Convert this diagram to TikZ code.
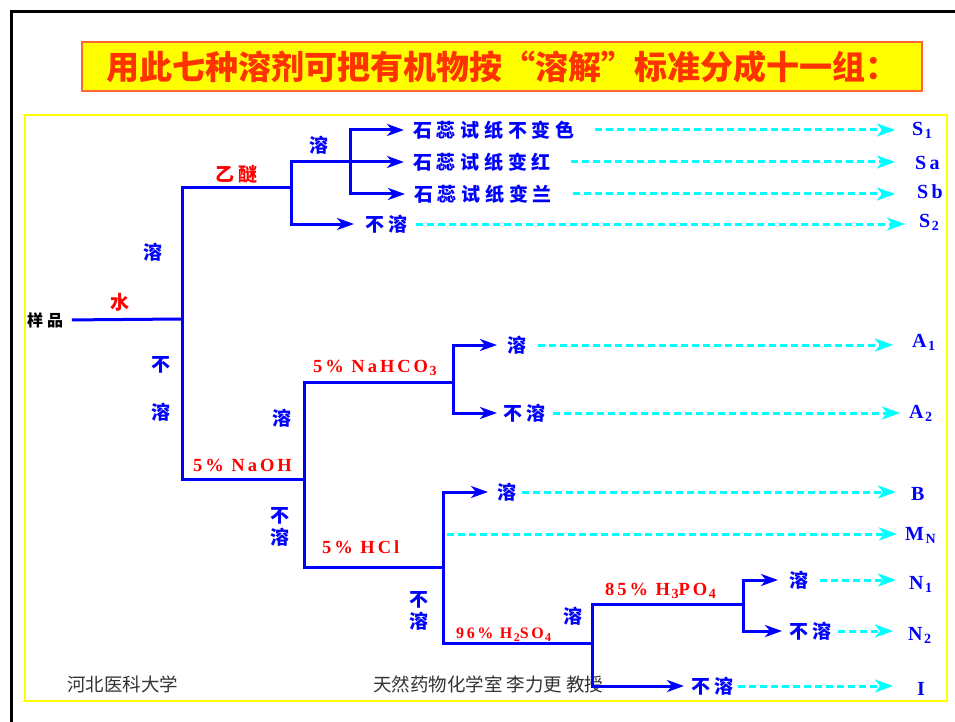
\documentclass[tikz,border=0pt]{standalone}
\usepackage{fontspec}
\setmainfont{Liberation Serif}
\newfontfamily\cjk{Noto Sans CJK SC}
\newfontfamily\cjksp{Noto Sans CJK SC}[LetterSpace=25]
\newfontfamily\latsp{Liberation Serif}[LetterSpace=16]
\usetikzlibrary{arrows.meta}
\definecolor{tblue}{RGB}{0,0,255}
\definecolor{tred}{RGB}{255,0,0}
\definecolor{tcyan}{RGB}{0,255,255}
\definecolor{ttitle}{RGB}{255,51,0}
\definecolor{tborder}{RGB}{255,102,51}
\definecolor{tgray}{RGB}{51,51,51}
\definecolor{tyellow}{RGB}{255,255,0}
\newcommand\lowsub[2]{\hspace{1.5pt}\raisebox{-3pt}{\fontsize{#1}{#1}\selectfont #2}}
\tikzset{
  tree/.style={draw=tblue, line width=3pt, line cap=rect, line join=miter},
  barrow/.style={draw=tblue, line width=3pt, shorten >=9pt, -{Stealth[length=17pt,width=12pt,inset=5pt]}},
  carrow/.style={draw=tcyan, line width=3pt, dash pattern=on 7pt off 4pt, -{Stealth[length=18pt,width=13pt,inset=5pt]}},
  cjklab/.style={font=\cjksp\bfseries\fontsize{19}{22}\selectfont, text=tblue, inner sep=0pt},
  cjkred/.style={font=\cjksp\bfseries\fontsize{19}{22}\selectfont, text=tred, inner sep=0pt},
  redlab/.style={font=\latsp\bfseries\fontsize{18.5}{20}\selectfont, text=tred, inner sep=0pt},
  rlab/.style={font=\latsp\bfseries\fontsize{20}{22}\selectfont, text=tblue, inner sep=0pt, anchor=base west},
  foot/.style={font=\cjk\fontsize{18.5}{20}\selectfont, text=tgray, inner sep=0pt, anchor=west},
}
\begin{document}
\begin{tikzpicture}[x=1pt,y=-1pt]
\useasboundingbox (0,0) rectangle (955,722);
% frames
\draw[line width=3pt] (11,730) -- (11,12) -- (960,12);
\draw[tyellow, line width=1.2pt] (25,115) rectangle (947,701);
% title
\node[draw=tborder, line width=1.5pt, fill=tyellow, minimum width=840pt, minimum height=49pt,
      inner sep=0pt, text=ttitle, font=\cjk\bfseries\fontsize{33}{35}\selectfont] (title) at (502,66.5)
      {用此七种溶剂可把有机物按“溶解”标准分成十一组：};

% text nodes
\node[cjklab, text=black, font=\cjksp\bfseries\fontsize{16}{18}\selectfont, anchor=west] (sample) at (27,320) {样品};
\node[cjkred] (water) at (120,302) {水};
\node[cjklab] (r1) at (153,252) {溶};
\node[cjklab] (b1) at (161,365) {不};
\node[cjklab] (r2) at (161,412) {溶};
\node[cjkred, anchor=west] (ether) at (215,174) {乙醚};
\node[cjklab] (r3) at (319,145) {溶};
\node[cjklab, anchor=west] (t1) at (413,130) {石蕊试纸不变色};
\node[cjklab, anchor=west] (t2) at (413,162) {石蕊试纸变红};
\node[cjklab, anchor=west] (t3) at (414,194) {石蕊试纸变兰};
\node[cjklab, anchor=west] (bs1) at (365,224) {不溶};
\node[rlab] (S1) at (912,136) {S\lowsub{14}{1}};
\node[rlab] (Sa) at (915,170) {Sa};
\node[rlab] (Sb) at (917,198) {Sb};
\node[rlab] (S2) at (919,227) {S\lowsub{14}{2}};

\node[redlab, anchor=base west] (naoh) at (193,471) {5\% NaOH};
\node[cjklab] (r4) at (282,418) {溶};
\node[cjklab, align=center] (bs2) at (280,527) {不\\溶};
\node[redlab, anchor=base west] (nahco3) at (313,372) {5\% NaHCO\lowsub{14}{3}};
\node[cjklab, anchor=west] (a1t) at (507,345) {溶};
\node[cjklab, anchor=west] (a2t) at (503,413) {不溶};
\node[rlab] (A1) at (912,347) {A\lowsub{14}{1}};
\node[rlab] (A2) at (909,418) {A\lowsub{14}{2}};

\node[redlab, anchor=base west] (hcl) at (322,553) {5\% HCl};
\node[cjklab, anchor=west] (bt) at (497,492) {溶};
\node[rlab] (B) at (911,500) {B};
\node[rlab] (MN) at (905,540) {M\lowsub{14}{N}};
\node[cjklab, align=center] (bs3) at (419,611) {不\\溶};
\node[redlab, font=\latsp\bfseries\fontsize{16}{18}\selectfont, anchor=base west] (h2so4) at (456,638) {96\% H\lowsub{12}{2}SO\lowsub{12}{4}};
\node[cjklab] (r5) at (573,616) {溶};
\node[redlab, anchor=base west] (h3po4) at (605,595) {85\% H\lowsub{14}{3}PO\lowsub{14}{4}};
\node[cjklab, anchor=west] (n1t) at (789,580) {溶};
\node[cjklab, anchor=west] (n2t) at (789,631) {不溶};
\node[cjklab, anchor=west] (it) at (691,686) {不溶};
\node[rlab] (N1) at (909,589) {N\lowsub{14}{1}};
\node[rlab] (N2) at (908,640) {N\lowsub{14}{2}};
\node[rlab] (I) at (917,695) {I};

\node[foot] (f1) at (67,684) {河北医科大学};
\node[foot] (f2) at (373,684) {天然药物化学室 李力更 教授};

% junction coordinates
\coordinate (J0) at (182,319);
\coordinate (J0t) at (182,188);
\coordinate (J0b) at (182,479);
\coordinate (J1) at (291,188);
\coordinate (J1t) at (291,162);
\coordinate (J2) at (350,162);
\coordinate (J3) at (304,479);
\coordinate (J3t) at (304,382);
\coordinate (J3b) at (304,567);
\coordinate (J4) at (453,382);
\coordinate (J5) at (443,567);
\coordinate (J5b) at (443,643);
\coordinate (J6) at (592,643);
\coordinate (J6t) at (592,604);
\coordinate (J7) at (743,604);
\coordinate (mnstart) at (447,534);

% tree lines
\draw[tree, shorten <=10pt] (sample.east) -- (J0);
\draw[tree] (J0t) -- (J0b);
\draw[tree] (J0t) -- (J1);
\draw[tree] (J1t) -- (J1t |- bs1.west);
\draw[tree] (J1t) -- (J2);
\draw[tree] (J2 |- t1.west) -- (J2 |- t3.west);
\draw[barrow] (J2 |- t1.west) -- (t1.west);
\draw[barrow] (J2) -- (t2.west);
\draw[barrow] (J2 |- t3.west) -- (t3.west);
\draw[barrow, shorten >=11pt] (J1t |- bs1.west) -- (bs1.west);

\draw[tree] (J0b) -- (J3);
\draw[tree] (J3t) -- (J3b);
\draw[tree] (J3t) -- (J4);
\draw[tree] (J4 |- a1t.west) -- (J4 |- a2t.west);
\draw[barrow, shorten >=10pt] (J4 |- a1t.west) -- (a1t.west);
\draw[barrow, shorten >=6pt] (J4 |- a2t.west) -- (a2t.west);

\draw[tree] (J3b) -- (J5);
\draw[tree] (J5 |- bt.west) -- (J5b);
\draw[barrow] (J5 |- bt.west) -- (bt.west);
\draw[tree] (J5b) -- (J6);
\draw[tree] (J6t) -- (J6t |- it.west);
\draw[barrow, shorten >=7pt] (J6t |- it.west) -- (it.west);
\draw[tree] (J6t) -- (J7);
\draw[tree] (J7 |- n1t.west) -- (J7 |- n2t.west);
\draw[barrow, shorten >=11pt] (J7 |- n1t.west) -- (n1t.west);
\draw[barrow, shorten >=7pt] (J7 |- n2t.west) -- (n2t.west);

% cyan dashed arrows
\draw[carrow, shorten <=20pt, shorten >=17pt] (t1.east) -- (t1.east -| S1.west);
\draw[carrow, shorten <=20pt, shorten >=20pt] (t2.east) -- (t2.east -| Sa.west);
\draw[carrow, shorten <=21pt, shorten >=22pt] (t3.east) -- (t3.east -| Sb.west);
\draw[carrow, shorten <=8pt, shorten >=14pt] (bs1.east) -- (bs1.east -| S2.west);
\draw[carrow, shorten <=12pt, shorten >=19pt] (a1t.east) -- (a1t.east -| A1.west);
\draw[carrow, shorten <=7pt, shorten >=9pt] (a2t.east) -- (a2t.east -| A2.west);
\draw[carrow, shorten <=6pt, shorten >=15pt] (bt.east) -- (bt.east -| B.west);
\draw[carrow, shorten >=8pt] (mnstart) -- (mnstart -| MN.west);
\draw[carrow, shorten <=12pt, shorten >=13pt] (n1t.east) -- (n1t.east -| N1.west);
\draw[carrow, shorten <=6pt, shorten >=15pt] (n2t.east) -- (n2t.east -| N2.west);
\draw[carrow, shorten <=4pt, shorten >=24pt] (it.east) -- (it.east -| I.west);
\end{tikzpicture}
\end{document}
